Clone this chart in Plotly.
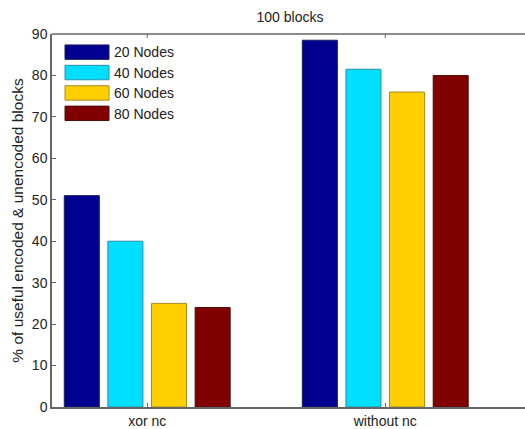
import plotly.graph_objects as go

# Data
categories = ["xor nc", "without nc"]
series_names = ["20 Nodes", "40 Nodes", "60 Nodes", "80 Nodes"]
values_20 = [51, 88.5]
values_40 = [40, 81.5]
values_60 = [25, 76]
values_80 = [24, 80]
y_ticks = [0, 10, 20, 30, 40, 50, 60, 70, 80, 90]

series_values = [values_20, values_40, values_60, values_80]
fill_colors = ["#00008F", "#00DFFF", "#FFCF00", "#800000"]
edge_colors = ["#1a1a60", "#2a8fa8", "#a88a20", "#4a1010"]

FONT = "Liberation Sans, Arial, sans-serif"
AXIS = "#666"
W, H = 525, 429
m_l, m_r, m_t, m_b = 52, 0, 34, 20

fig = go.Figure()
for name, vals, fc, ec in zip(series_names, series_values, fill_colors, edge_colors):
    fig.add_trace(go.Bar(
        x=categories, y=vals, name=name,
        marker=dict(color=fc, line=dict(color=ec, width=1)),
        showlegend=False,
    ))

pw = W - m_l - m_r
ph = H - m_t - m_b
def px_to_paper_x(px):
    return (px - m_l) / pw
def px_to_paper_y(py):
    return 1 - (py - m_t) / ph

# Legend with wide swatches in the upper-left corner
for i, (name, fc, ec) in enumerate(zip(series_names, fill_colors, edge_colors)):
    top = 45 + i * 20.5
    fig.add_shape(type="rect", xref="paper", yref="paper",
                  x0=px_to_paper_x(65), x1=px_to_paper_x(109),
                  y0=px_to_paper_y(top + 14.5), y1=px_to_paper_y(top),
                  fillcolor=fc, line=dict(color=ec, width=1))
    fig.add_annotation(xref="paper", yref="paper",
                       x=px_to_paper_x(112), y=px_to_paper_y(top + 7.5),
                       text=name, showarrow=False, xanchor="left", yanchor="middle",
                       font=dict(family=FONT, size=14, color="#222"))

# Top frame line and its category ticks
fig.add_shape(type="line", xref="paper", yref="paper", x0=0, x1=1, y0=1, y1=1,
              line=dict(color=AXIS, width=1.5))
for cat in categories:
    fig.add_shape(type="line", xref="x", yref="paper", x0=cat, x1=cat,
                  y0=1, y1=1 - 4 / ph, line=dict(color=AXIS, width=1))

fig.update_layout(
    width=W, height=H,
    margin=dict(l=m_l, r=m_r, t=m_t, b=m_b, pad=0),
    paper_bgcolor="white", plot_bgcolor="white",
    barmode="group", bargap=0.267, bargroupgap=0.197,
    title=dict(text="100 blocks", x=290 / W, xanchor="center", y=1 - 17 / H, yanchor="middle",
               font=dict(family=FONT, size=14, color="#222")),
    font=dict(family=FONT, size=14, color="#222"),
)

fig.update_xaxes(
    type="category", range=[-0.4, 1.587],
    showline=True, linecolor=AXIS, linewidth=1.5, mirror=False,
    ticks="inside", ticklen=4, tickcolor=AXIS,
    showgrid=False, zeroline=False,
    tickfont=dict(size=14, color="#222"),
)
fig.update_yaxes(
    range=[0, 90], tickvals=y_ticks,
    showline=True, linecolor=AXIS, linewidth=1.5,
    ticks="inside", ticklen=4, tickcolor=AXIS,
    showgrid=False, zeroline=False,
    tickfont=dict(size=14, color="#222"),
    title=dict(text="% of useful encoded & unencoded blocks", standoff=4,
               font=dict(size=15.5, color="#222")),
)

fig.write_html("out.html")
